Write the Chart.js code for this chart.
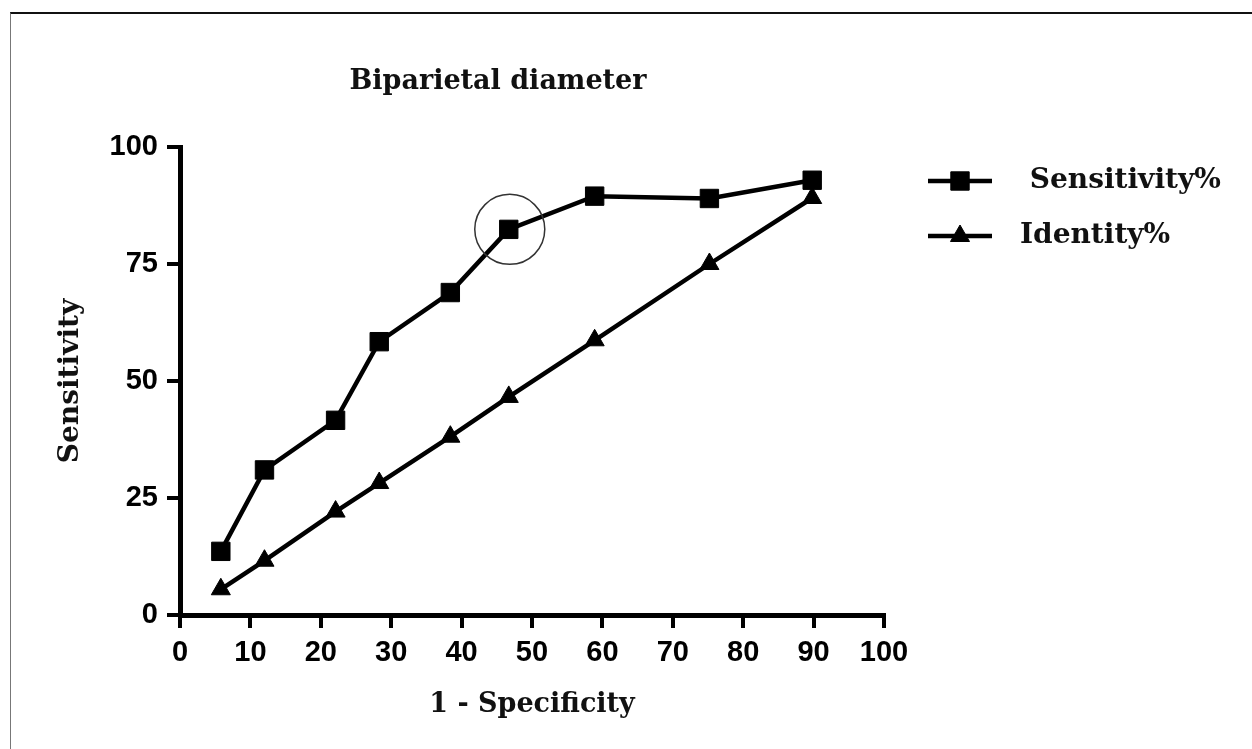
<!DOCTYPE html>
<html>
<head>
<meta charset="utf-8">
<script src="https://cdn.jsdelivr.net/npm/chart.js@4"></script>
<style>
    body { margin: 0; background: #fff; }
    #wrap { position: relative; width: 1252px; height: 749px; }
    #frame { position: absolute; left: 10px; top: 12px; right: 0; bottom: 0; border-top: 2px solid #111; border-left: 1px solid #777; }
</style>
</head>
<body>
<div id="wrap">
    <div id="frame"></div>
    <canvas id="rocChart"></canvas>
</div>
<script>
// dados
const specificityX = [5.8, 12.0, 22.1, 28.3, 38.4, 46.7, 58.9, 75.2, 89.8];
const sensitivityY = [13.6, 31.0, 41.6, 58.4, 68.9, 82.4, 89.5, 89.0, 92.9];
const identityY = [5.5, 11.6, 22.1, 28.2, 38.1, 46.6, 58.7, 75.0, 89.1];
const xTicks = [0, 10, 20, 30, 40, 50, 60, 70, 80, 90, 100];
const yTicks = [0, 25, 50, 75, 100];
const seriesNames = [' Sensitivity%', 'Identity%'];
const highlightIndex = 5;

const serif = '"DejaVu Serif", serif';
const sans = '"Liberation Sans", Arial, sans-serif';

// titulo, circulo e legenda desenhados a mao
const extras = {
    id: 'extras',
    afterDatasetsDraw(chart) {
        const c = chart.ctx;
        const p = chart.getDatasetMeta(0).data[highlightIndex];
        c.save();
        c.strokeStyle = '#333';
        c.lineWidth = 1.5;
        c.beginPath();
        c.arc(p.x + 1, p.y, 35, 0, Math.PI * 2);
        c.stroke();

        c.fillStyle = '#111';
        c.font = 'bold 27px ' + serif;
        c.textAlign = 'center';
        c.textBaseline = 'middle';
        c.fillText('Biparietal diameter', 498, 82);

        chart.data.datasets.forEach((ds, i) => {
            const y = 181 + i * 55;
            c.strokeStyle = '#000';
            c.lineWidth = ds.borderWidth;
            c.beginPath();
            c.moveTo(928, y);
            c.lineTo(992, y);
            c.stroke();
            c.fillStyle = '#000';
            c.lineWidth = 1;
            Chart.helpers.drawPoint(c, { pointStyle: ds.pointStyle, radius: ds.pointRadius, borderWidth: 1 }, 960, y);
            c.fillStyle = '#111';
            c.textAlign = 'left';
            c.font = 'bold 28px ' + serif;
            c.fillText(ds.label, 1020, y);
        });
        c.restore();
    }
};

const ctx = document.getElementById('rocChart').getContext('2d');
new Chart(ctx, {
    type: 'line',
    data: {
        datasets: [{
            label: seriesNames[0],
            data: specificityX.map((x, i) => ({ x: x, y: sensitivityY[i] })),
            borderColor: '#000',
            backgroundColor: '#000',
            borderWidth: 4.5,
            pointStyle: 'rect',
            pointRadius: 13,
            pointBorderWidth: 1,
            tension: 0
        }, {
            label: seriesNames[1],
            data: specificityX.map((x, i) => ({ x: x, y: identityY[i] })),
            borderColor: '#000',
            backgroundColor: '#000',
            borderWidth: 4.5,
            pointStyle: 'triangle',
            pointRadius: 11,
            pointBorderWidth: 1,
            tension: 0
        }]
    },
    options: {
        responsive: true,
        maintainAspectRatio: false,
        animation: false,
        events: [],
        clip: false,
        layout: { padding: { left: 20, top: 147, right: 368, bottom: 0 } },
        plugins: { legend: { display: false }, tooltip: { enabled: false } },
        scales: {
            x: {
                type: 'linear',
                min: 0,
                max: 100,
                afterBuildTicks: s => { s.ticks = xTicks.map(v => ({ value: v })); },
                afterFit: s => { s.height = 134; },
                border: { color: '#000', width: 5 },
                grid: { drawOnChartArea: false, color: '#000', lineWidth: 4, tickLength: 13 },
                ticks: { color: '#000', padding: 8, font: { family: sans, size: 29, weight: 'bold' }, maxRotation: 0 },
                title: { display: true, text: '1 - Specificity', color: '#111', font: { family: serif, size: 27, weight: 'bold' }, padding: { top: 0, bottom: 28 } }
            },
            y: {
                min: 0,
                max: 100,
                afterBuildTicks: s => { s.ticks = yTicks.map(v => ({ value: v })); },
                afterFit: s => { s.width = 160; },
                border: { color: '#000', width: 5 },
                grid: { drawOnChartArea: false, color: '#000', lineWidth: 4, tickLength: 13 },
                ticks: { color: '#000', padding: 9, font: { family: sans, size: 29, weight: 'bold' } },
                title: { display: true, text: 'Sensitivity', color: '#111', font: { family: serif, size: 28, weight: 'bold' }, padding: { top: 34, bottom: 0 } }
            }
        }
    },
    plugins: [extras]
});
</script>
</body>
</html>
